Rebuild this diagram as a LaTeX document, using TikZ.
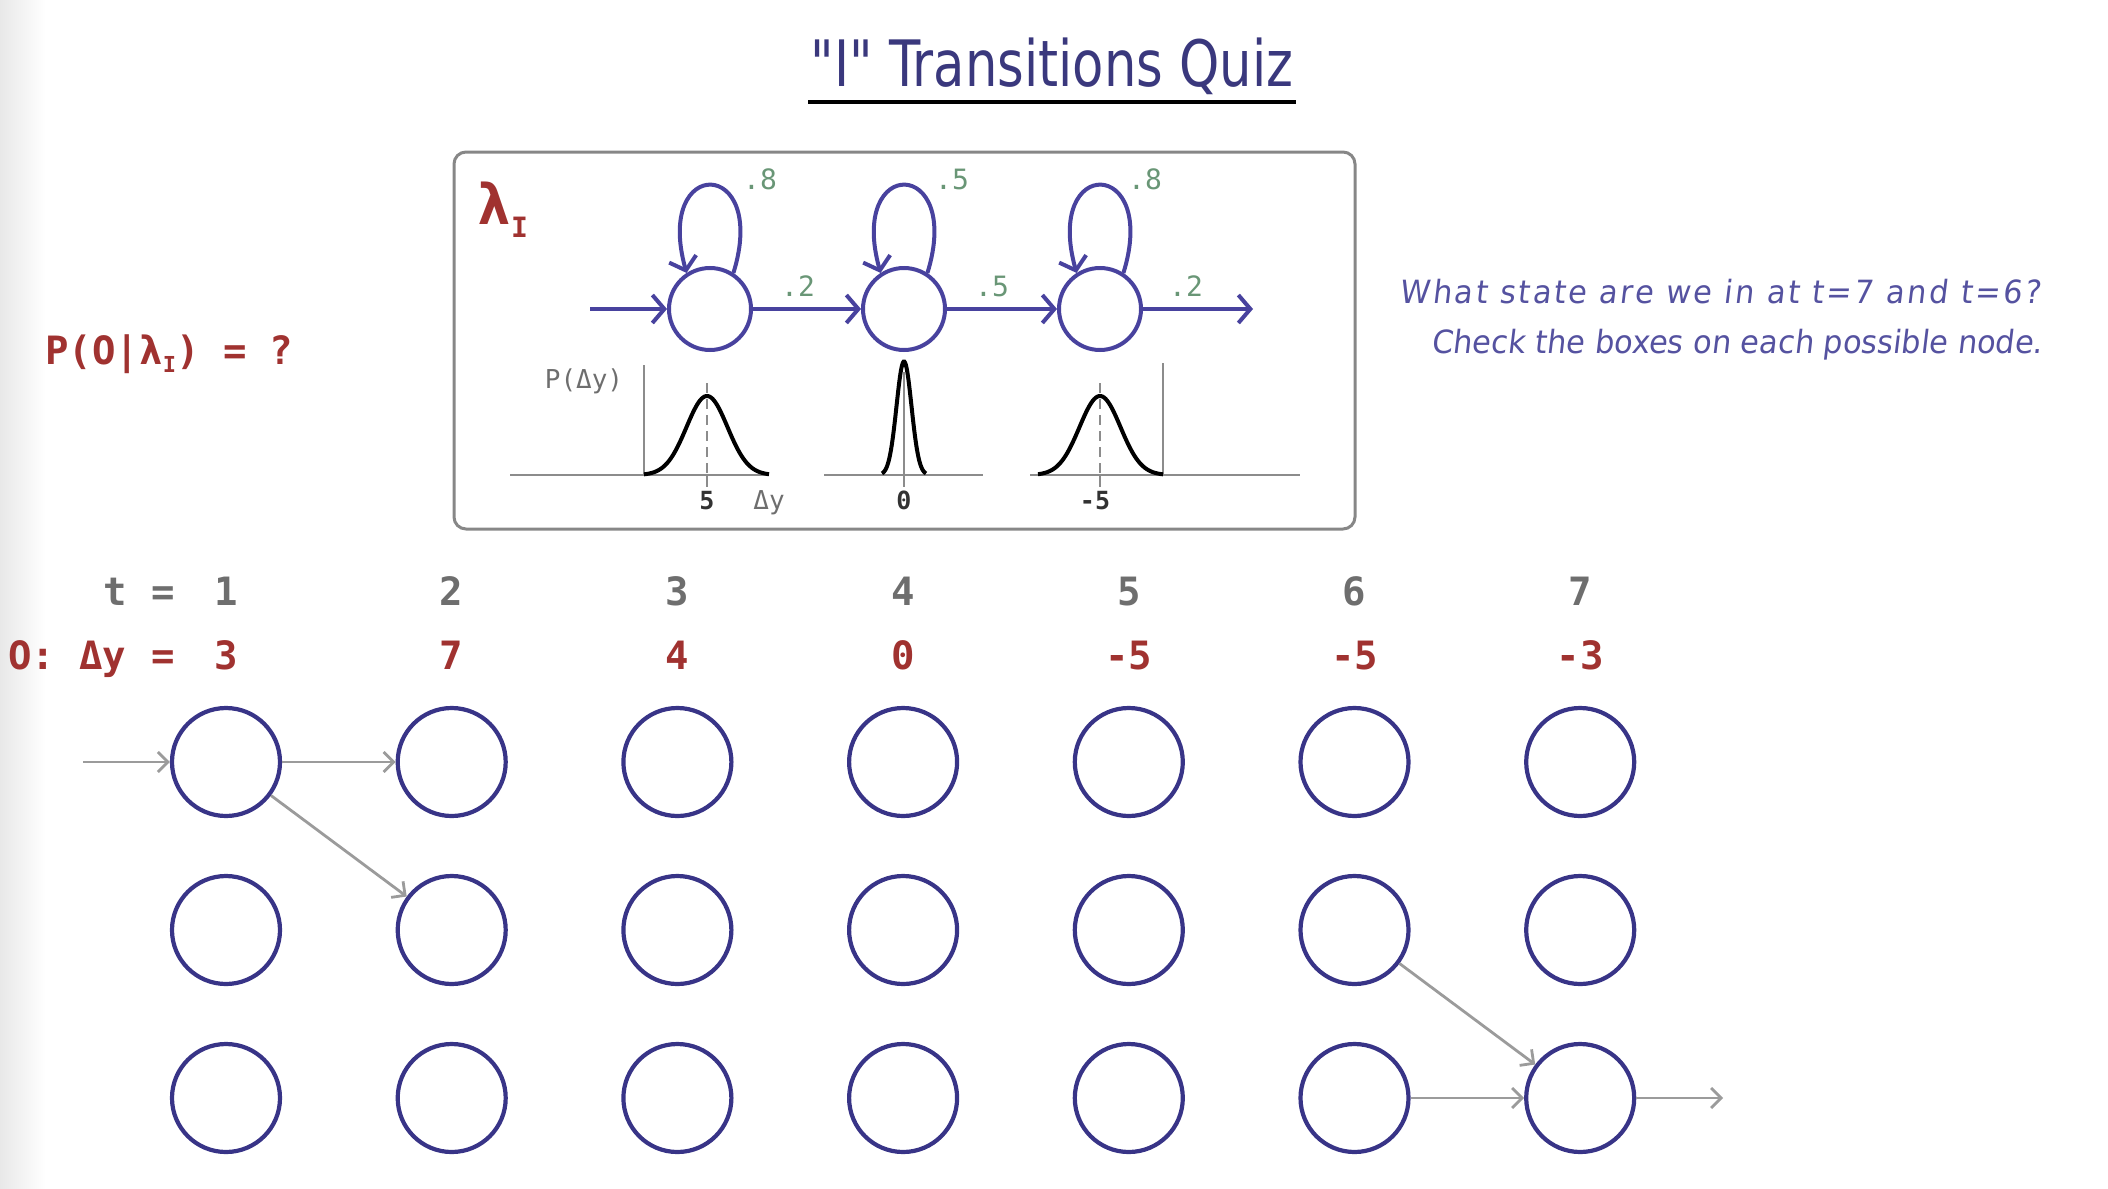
\documentclass[tikz,border=0pt]{standalone}
\usepackage{fontspec}
\setmainfont{DejaVu Sans}
\newfontfamily\monof{DejaVu Sans Mono}
\newfontfamily\titlef[FakeStretch=0.8]{DejaVu Sans}
\newfontfamily\handf[FakeStretch=0.95,FakeSlant=0.12]{DejaVu Sans}
\newfontfamily\handwidef[FakeStretch=0.95,FakeSlant=0.12,LetterSpace=8]{DejaVu Sans}
\usetikzlibrary{arrows.meta,calc}
\definecolor{stateblue}{RGB}{56,52,135}
\definecolor{hmmblue}{RGB}{72,66,158}
\definecolor{arrowgray}{RGB}{155,155,155}
\definecolor{darkred}{RGB}{160,50,48}
\definecolor{labgray}{RGB}{110,110,110}
\definecolor{probgreen}{RGB}{105,150,118}
\definecolor{boxgray}{RGB}{135,135,135}
\definecolor{titleblue}{RGB}{58,56,125}
\definecolor{handblue}{RGB}{85,82,160}
\definecolor{axisgray}{RGB}{140,140,140}
\definecolor{tickdark}{RGB}{50,50,50}
\tikzset{
  gridstate/.style={circle, draw=stateblue, line width=2.1pt, minimum size=54pt, inner sep=0pt},
  hmmstate/.style={circle, draw=hmmblue, line width=2pt, minimum size=41pt, inner sep=0pt},
  grayarrow/.style={draw=arrowgray, line width=1.4pt, -{Straight Barb[length=5pt,width=10pt]}},
  hmmarrow/.style={draw=hmmblue, line width=2pt, -{Straight Barb[length=6pt,width=14pt]}},
  tlab/.style={inner sep=0pt, anchor=base, text=labgray, font=\monof\bfseries\fontsize{19.5}{20}\selectfont},
  olab/.style={inner sep=0pt, anchor=base, text=darkred, font=\monof\bfseries\fontsize{19.5}{20}\selectfont},
  problab/.style={inner sep=0pt, text=probgreen, font=\monof\fontsize{14}{14}\selectfont},
  axlab/.style={inner sep=0pt, anchor=base, text=labgray, font=\monof\fontsize{13}{13}\selectfont},
  ticklab/.style={inner sep=0pt, anchor=base, text=tickdark, font=\monof\bfseries\fontsize{12.5}{13}\selectfont},
  curve/.style={draw=black, line width=2pt},
  axisline/.style={draw=axisgray, line width=1pt},
  handtext/.style={inner sep=0pt, text=handblue, font=\handf\fontsize{16}{17}\selectfont},
}
\begin{document}
\begin{tikzpicture}[x=0.5pt,y=-0.5pt]
\useasboundingbox (0,0) rectangle (2108,1188);
% left edge shading
\shade[left color=black!9, right color=white] (0,0) rectangle (45,1188);

% title
\node[inner sep=0pt, text=titleblue, font=\titlef\fontsize{32}{32}\selectfont] (title) at (1052,66) {"I" Transitions Quiz};
\draw[line width=2pt, black] (808,102) -- (1296,102);

% P(O|lambda)
\node[inner sep=0pt, anchor=base west, text=darkred, font=\monof\bfseries\fontsize{19.5}{20}\selectfont] (pol) at (45,364)
  {P(O|λ\raisebox{-4pt}{\fontsize{11}{11}\selectfont I}) = ?};

% question text
\node[handtext, font=\handwidef\fontsize{16}{17}\selectfont] (q1) at (1720,292) {What state are we in at t=7 and t=6?};
\node[handtext] (q2) at (1737,345) {Check the boxes on each possible node.};

% model box
\draw[draw=boxgray, line width=1.5pt, rounded corners=6pt] (454,152) rectangle (1355,529);
\node[inner sep=0pt, anchor=base west, text=darkred, font=\monof\bfseries\fontsize{28}{28}\selectfont] (lam) at (477,224)
  {λ\raisebox{-6.5pt}{\fontsize{14}{14}\selectfont I}};

% HMM states
\node[hmmstate] (s1) at (710,309) {};
\node[hmmstate] (s2) at (904,309) {};
\node[hmmstate] (s3) at (1100,309) {};
\coordinate (hin) at (590,309);
\coordinate (hout) at (1253,309);
\draw[hmmarrow] (hin) -- (s1);
\draw[hmmarrow] (s1) -- (s2);
\draw[hmmarrow] (s2) -- (s3);
\draw[hmmarrow] (s3) -- (hout);
\foreach \s in {s1,s2,s3}{
  \draw[hmmarrow] (\s.57) .. controls +(36,-116) and +(-33,-118) .. (\s.123);
}
\node[problab] (p1) at (760,179) {.8};
\node[problab] (p2) at (952,179) {.5};
\node[problab] (p3) at (1145,179) {.8};
\node[problab] (p12) at (798,286) {.2};
\node[problab] (p23) at (992,286) {.5};
\node[problab] (p3o) at (1186,286) {.2};

% emission plots
\draw[axisline] (510,475) -- (769,475);
\draw[axisline] (824,475) -- (983,475);
\draw[axisline] (1030,475) -- (1300,475);
\draw[axisline] (644,365) -- (644,475);
\draw[axisline] (1163,363) -- (1163,475);
\draw[axisline, dashed, dash pattern=on 5pt off 3pt] (707,383) -- (707,475);
\draw[axisline, dashed, dash pattern=on 5pt off 3pt] (1100,383) -- (1100,475);
\draw[axisline] (904,372) -- (904,475);
\draw[axisline] (707,475) -- (707,487);
\draw[axisline] (904,475) -- (904,487);
\draw[axisline] (1100,475) -- (1100,487);
\draw[curve] plot[domain=-63:62, samples=90, smooth] ({707+\x}, {475-79*exp(-((\x)*(\x))/(2*20.5*20.5))});
\draw[curve] plot[domain=-22:22, samples=60, smooth] ({904+\x}, {475-113.5*exp(-((\x)*(\x))/(2*7.5*7.5))});
\draw[curve] plot[domain=-62:63, samples=90, smooth] ({1100+\x}, {475-79*exp(-((\x)*(\x))/(2*20.5*20.5))});
\node[axlab] (pdy) at (584,388) {P(Δy)};
\node[ticklab] (l5) at (707,509) {5};
\node[axlab] (ldy) at (769,509) {Δy};
\node[ticklab] (l0) at (904,509) {0};
\node[ticklab] (lm5) at (1095,509) {-5};

% trellis labels
\node[tlab] (tt) at (115,605) {t};
\node[tlab] (teq) at (163,605) {=};
\node[olab] (oo) at (32,669) {O:};
\node[olab] (ody) at (103,669) {Δy};
\node[olab] (oeq) at (163,669) {=};
\foreach \i/\o in {1/3,2/7,3/4,4/0,5/-5,6/-5,7/-3}{
  \node[tlab] (t\i) at ({226+225.7*(\i-1)},605) {\i};
  \node[olab] (o\i) at ({226+225.7*(\i-1)},669) {\o};
}

% trellis states
\foreach \i in {1,...,7}{
  \foreach \j in {1,2,3}{
    \node[gridstate] (c\j\i) at ({226+225.7*(\i-1)},{762+168*(\j-1)}) {};
  }
}
\coordinate (gin) at (83,762);
\coordinate (gout) at (1723,1098);
\draw[grayarrow] (gin) -- (c11);
\draw[grayarrow] (c11) -- (c12);
\draw[grayarrow] (c11) -- (c22);
\draw[grayarrow] (c26) -- (c37);
\draw[grayarrow] (c36) -- (c37);
\draw[grayarrow] (c37) -- (gout);
\end{tikzpicture}
\end{document}
